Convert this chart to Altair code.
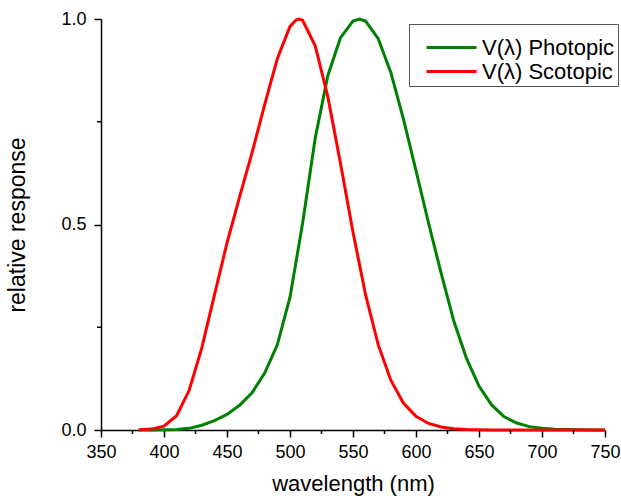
import altair as alt
import pandas as pd

wavelength_photopic = [380, 390, 400, 410, 420, 430, 440, 450, 460, 470, 480, 490, 500, 510, 520, 530, 540,
                       550, 555, 560, 570, 580, 590, 600, 610, 620, 630, 640, 650, 660, 670, 680, 690, 700,
                       710, 720, 730, 740, 750]
photopic = [0.00004, 0.00012, 0.0004, 0.0012, 0.004, 0.0116, 0.023, 0.038, 0.06, 0.091, 0.139, 0.208, 0.323,
            0.503, 0.71, 0.862, 0.954, 0.995, 1.0, 0.995, 0.952, 0.87, 0.757, 0.631, 0.503, 0.381, 0.265,
            0.175, 0.107, 0.061, 0.032, 0.017, 0.0082, 0.0041, 0.0021, 0.00105, 0.00052, 0.00025, 0.00012]

wavelength_scotopic = [380, 390, 400, 410, 420, 430, 440, 450, 460, 470, 480, 490, 500, 505, 507, 510, 520,
                       530, 540, 550, 560, 570, 580, 590, 600, 610, 620, 630, 640, 650, 660, 670, 680, 690,
                       700, 710, 720, 730, 740, 750]
scotopic = [0.00059, 0.0022, 0.0093, 0.0348, 0.0966, 0.1998, 0.3281, 0.455, 0.567, 0.676, 0.793, 0.904,
            0.982, 0.998, 1.0, 0.997, 0.935, 0.811, 0.65, 0.481, 0.3288, 0.2076, 0.1212, 0.0655, 0.0332,
            0.0159, 0.0074, 0.0033, 0.0015, 0.0007, 0.0003, 0.00015, 0.00007, 0.00004, 0.00002, 0.00001,
            0.0, 0.0, 0.0, 0.0]

series_names = ["V(\u03bb) Photopic", "V(\u03bb) Scotopic"]
series_colors = ["#008000", "#ff0000"]

x_major = [350, 400, 450, 500, 550, 600, 650, 700, 750]
x_minor = [375, 425, 475, 525, 575, 625, 675, 725]
y_major = [0.0, 0.5, 1.0]
y_minor = [0.25, 0.75]

rows = []
for w, v in zip(wavelength_photopic, photopic):
    rows.append({"wl": w, "val": v, "series": series_names[0]})
for w, v in zip(wavelength_scotopic, scotopic):
    rows.append({"wl": w, "val": v, "series": series_names[1]})
df = pd.DataFrame(rows)

W, H = 504, 411
FONT = "Liberation Sans"

xscale = alt.Scale(domain=[350, 750], nice=False, zero=False)
yscale = alt.Scale(domain=[0, 1], nice=False)

lines = alt.Chart(df).mark_line(strokeWidth=3).encode(
    x=alt.X("wl:Q", scale=xscale,
            axis=alt.Axis(values=x_major, title="wavelength (nm)", grid=False, tickSize=7,
                          labelPadding=6, titlePadding=12, labelFlush=False, titleFontSize=22,
                          domainColor="black", tickColor="black", domainWidth=1.5, tickWidth=1.5)),
    y=alt.Y("val:Q", scale=yscale,
            axis=alt.Axis(values=y_major, format=".1f", title="relative response", grid=False,
                          tickSize=7, labelPadding=8, titlePadding=31, labelFlush=False,
                          titleFontSize=23, domainColor="black", tickColor="black",
                          domainWidth=1.5, tickWidth=1.5)),
    color=alt.Color("series:N", scale=alt.Scale(domain=series_names, range=series_colors),
                    legend=alt.Legend(title=" ", titleFontSize=7, titlePadding=2,
                                      orient="none", legendX=308, legendY=5,
                                      symbolType="M0.3,0H5.3", symbolSize=400, symbolStrokeWidth=3,
                                      labelFontSize=22, labelFont=FONT, labelColor="black",
                                      strokeColor="#555", padding=3, rowPadding=1,
                                      labelOffset=47, fillColor="white")),
)

xminor = alt.Chart(pd.DataFrame({"v": x_minor})).mark_rule(color="black", strokeWidth=1.5).encode(
    x=alt.X("v:Q", scale=xscale), y=alt.value(H), y2=alt.value(H + 4))
yminor = alt.Chart(pd.DataFrame({"v": y_minor})).mark_rule(color="black", strokeWidth=1.5).encode(
    y=alt.Y("v:Q", scale=yscale), x=alt.value(0), x2=alt.value(-4))

chart = alt.layer(lines, xminor, yminor).properties(
    width=W, height=H,
    autosize=alt.AutoSizeParams(type="none"),
    padding={"left": 101, "top": 19, "right": 16, "bottom": 66},
).configure_view(stroke=None).configure_axis(
    labelFont=FONT, titleFont=FONT, labelFontSize=18,
    labelColor="black", titleColor="black", titleFontWeight="normal",
)

chart.save("out.html", embed_options={"renderer": "svg", "actions": False})
